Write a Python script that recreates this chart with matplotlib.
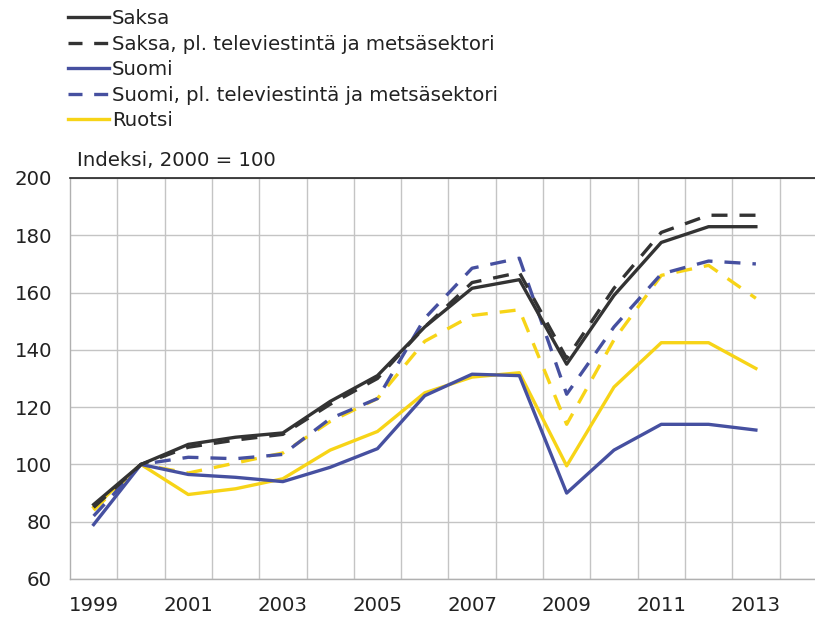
import matplotlib
matplotlib.use("Agg")
import matplotlib.pyplot as plt
from matplotlib.lines import Line2D

plt.rcParams['font.family'] = ['DejaVu Sans']

years = list(range(1999, 2014))
saksa = [86, 100, 107, 109.5, 111, 122, 131, 148, 161.5, 164.5, 135, 159, 177.5, 183, 183]
saksa_pl = [85, 100, 106, 108.5, 110.5, 121, 130, 148, 163.5, 167, 137, 161.5, 181, 187, 187]
suomi = [79, 100, 96.5, 95.5, 94, 99, 105.5, 124, 131.5, 131, 90, 105, 114, 114, 112]
suomi_pl = [82, 100, 102.5, 102, 103.5, 116, 123, 151, 168.5, 172, 124.5, 148, 166.5, 171, 170]
ruotsi = [85, 100, 89.5, 91.5, 95, 105, 111.5, 125, 130.5, 132, 99.5, 127, 142.5, 142.5, 133.5]
ruotsi_pl = [84, 100, 97, 100.5, 104, 115, 123, 143, 152, 154, 114, 143.5, 166, 169.5, 158]

legend_labels = ["Saksa", "Saksa, pl. televiestintä ja metsäsektori", "Suomi",
                 "Suomi, pl. televiestintä ja metsäsektori", "Ruotsi"]
yticks = [60, 80, 100, 120, 140, 160, 180, 200]
xtick_years = [1999, 2001, 2003, 2005, 2007, 2009, 2011, 2013]

BLACK = "#333333"
BLUE = "#4650a0"
YELLOW = "#f7d417"
TXT = "#222222"
LW = 2.4
DASH = (4.8, 3.6)

fig = plt.figure(figsize=(8.15, 6.23), dpi=100)
ax = fig.add_axes([70/815, 1-579/623, 745/815, 401/623])

ax.plot(years, ruotsi_pl, color=YELLOW, lw=LW, dashes=DASH)
ax.plot(years, ruotsi, color=YELLOW, lw=LW)
ax.plot(years, suomi, color=BLUE, lw=LW)
ax.plot(years, suomi_pl, color=BLUE, lw=LW, dashes=DASH)
ax.plot(years, saksa_pl, color=BLACK, lw=LW, dashes=DASH)
ax.plot(years, saksa, color=BLACK, lw=LW)

ax.set_xlim(1998.5, 2014.25)
ax.set_ylim(60, 200)
ax.set_yticks(yticks)
ax.set_xticks(xtick_years)
ax.set_xticks([y + 0.5 for y in range(1999, 2014)], minor=True)
ax.tick_params(axis='both', which='both', length=0, labelsize=14.2, colors=TXT)
ax.tick_params(axis='y', pad=13)
ax.tick_params(axis='x', pad=12)
ax.grid(True, axis='y', which='major', color="#c4c4c4", lw=1)
ax.grid(True, axis='x', which='minor', color="#c4c4c4", lw=1)
ax.set_axisbelow(True)
for s in ['left', 'bottom']:
    ax.spines[s].set_color("#b0b0b0")
    ax.spines[s].set_linewidth(1)
ax.spines['right'].set_visible(False)
ax.spines['top'].set_color("#222222")
ax.spines['top'].set_linewidth(1.2)

fig.text(77/815, 1-161/623, "Indeksi, 2000 = 100", fontsize=14.2, va='center', ha='left', color=TXT)

handles = [
    Line2D([], [], color=BLACK, lw=LW),
    Line2D([], [], color=BLACK, lw=LW, dashes=(4.2, 3.5)),
    Line2D([], [], color=BLUE, lw=LW),
    Line2D([], [], color=BLUE, lw=LW, dashes=(4.2, 3.5)),
    Line2D([], [], color=YELLOW, lw=LW),
]
leg = fig.legend(handles, legend_labels, loc='upper left', bbox_to_anchor=(68/815, 1-9/623),
                 frameon=False, fontsize=14.2, handlelength=2.1, handletextpad=0.12,
                 labelspacing=0.33, borderaxespad=0, borderpad=0)
for t in leg.get_texts():
    t.set_color(TXT)

fig.savefig("out.png", dpi=100)
